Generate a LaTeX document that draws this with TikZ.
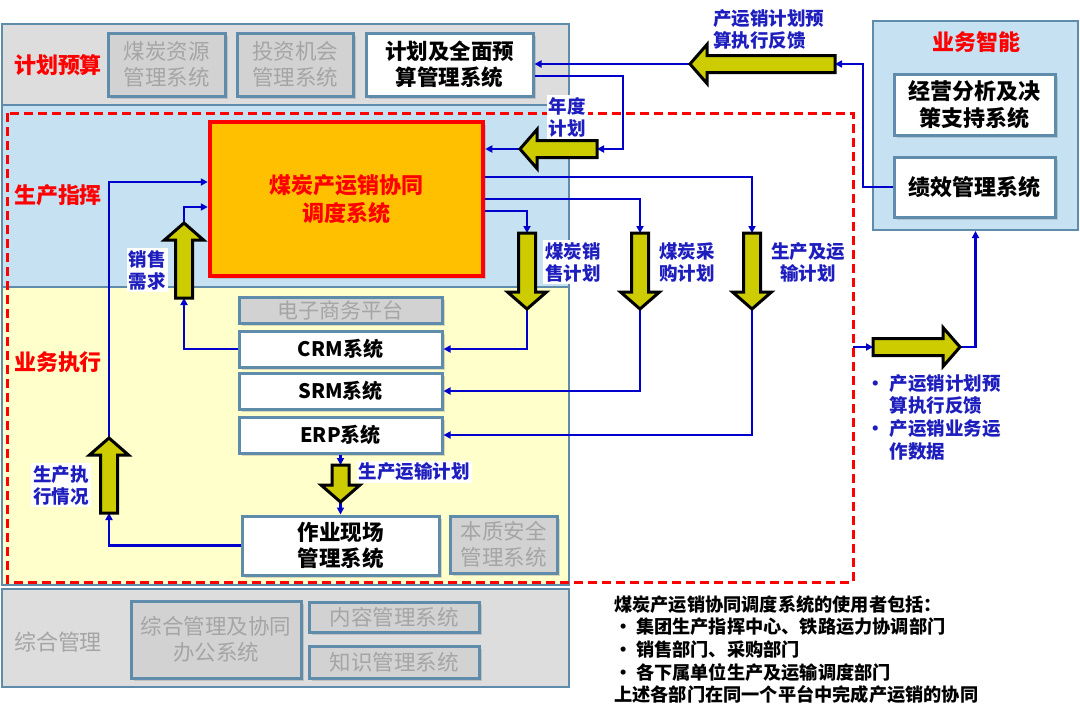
\documentclass[tikz,border=0pt]{standalone}
\usepackage{fontspec}
\setmainfont{Noto Sans CJK SC}
\usetikzlibrary{arrows.meta,shadows}
\definecolor{bord}{RGB}{95,140,170}
\definecolor{gfill}{RGB}{221,221,221}
\definecolor{gbox}{RGB}{210,210,210}
\definecolor{gtext}{RGB}{165,165,165}
\definecolor{bband}{RGB}{198,226,242}
\definecolor{yband}{RGB}{255,255,204}
\definecolor{lblue}{RGB}{0,0,204}
\definecolor{tblue}{RGB}{30,30,190}
\definecolor{olivef}{RGB}{204,204,0}
\definecolor{orng}{RGB}{255,192,0}
\definecolor{rred}{RGB}{255,0,0}
\tikzset{
 band/.style={draw=bord, line width=2pt, inner sep=0},
 sysbox/.style={draw=bord, line width=3pt, fill=white, inner sep=0, align=center,
   font=\bfseries\fontsize{21.5}{26}\selectfont,
   drop shadow={shadow xshift=3pt, shadow yshift=-3pt, opacity=0.3}},
 graybox/.style={sysbox, fill=gbox, text=gtext, font=\fontsize{21.5}{26}\selectfont},
 redlbl/.style={text=rred, font=\bfseries\fontsize{22}{26}\selectfont},
 bluelbl/.style={text=tblue, font=\bfseries\fontsize{18.5}{22}\selectfont, align=center, fill=white, inner sep=2pt},
 conn/.style={draw=lblue, line width=2.5pt, -{Triangle[length=7pt,width=7pt]}},
 barrow/.style={draw=black, line width=3pt, fill=olivef, line join=miter},
 pics/blk/.style={code={\draw[barrow] (0,-8.5) -- (#1-17,-8.5) -- (#1-17,-19.5) -- (#1,0) -- (#1-17,19.5) -- (#1-17,8.5) -- (0,8.5) -- cycle;}},
}
\begin{document}
\begin{tikzpicture}[x=1pt,y=-1pt]
\useasboundingbox[fill=white] (0,0) rectangle (1080,715);
% bands
\node[band, fill=gfill, minimum width=567, minimum height=81] (bplan) at (285.5,64.5) {};
\node[band, fill=bband, minimum width=567, minimum height=182] (bprod) at (285.5,196) {};
\node[band, fill=yband, minimum width=567, minimum height=298] (bexec) at (285.5,436) {};
\node[band, fill=gfill, minimum width=567, minimum height=98] (bgen) at (285.5,638) {};
\node[band, fill=bband, minimum width=205, minimum height=209] (bbi) at (975.5,125.5) {};
% red dashed frame
\draw[rred, line width=3pt, dash pattern=on 9pt off 5pt] (7,113) rectangle (853,582);
% band labels
\node[redlbl] (lplan) at (58,65) {计划预算};
\node[redlbl] (lprod) at (58,195) {生产指挥};
\node[redlbl] (lexec) at (58,362) {业务执行};
\node[text=gtext, font=\fontsize{22}{26}\selectfont] (lgen) at (58,642) {综合管理};
\node[redlbl] (lbi) at (976,42) {业务智能};
% boxes
\node[graybox, minimum width=117, minimum height=63] (coal) at (166.5,64.5) {煤炭资源\\管理系统};
\node[graybox, minimum width=116, minimum height=63] (inv) at (295,64.5) {投资机会\\管理系统};
\node[sysbox, minimum width=167, minimum height=63] (jh) at (449.5,64.5) {计划及全面预\\算管理系统};
\node[draw=rred, line width=4.5pt, fill=orng, minimum width=273, minimum height=154, align=center,
  text=rred, font=\bfseries\fontsize{22}{28}\selectfont,
  drop shadow={shadow xshift=3pt, shadow yshift=-3pt, opacity=0.3}] (core) at (346.5,199) {煤炭产运销协同\\调度系统};
\node[graybox, minimum width=203, minimum height=26, font=\fontsize{21}{24}\selectfont] (ec) at (340.5,310) {电子商务平台};
\node[sysbox, minimum width=203, minimum height=36, font=\bfseries\fontsize{20}{24}\selectfont] (crm) at (340.5,349) {CRM系统};
\node[sysbox, minimum width=203, minimum height=36, font=\bfseries\fontsize{20}{24}\selectfont] (srm) at (340.5,391) {SRM系统};
\node[sysbox, minimum width=203, minimum height=36, font=\bfseries\fontsize{20}{24}\selectfont] (erp) at (340.5,435) {ERP系统};
\node[sysbox, minimum width=197, minimum height=59] (zy) at (340.5,545.5) {作业现场\\管理系统};
\node[graybox, minimum width=107, minimum height=57] (aq) at (503.5,544.5) {本质安全\\管理系统};
\node[graybox, minimum width=170, minimum height=77] (oa) at (216,639.5) {综合管理及协同\\办公系统};
\node[graybox, minimum width=170, minimum height=30] (cm) at (394,617) {内容管理系统};
\node[graybox, minimum width=170, minimum height=32] (km) at (394,662) {知识管理系统};
\node[sysbox, minimum width=161, minimum height=61, font=\bfseries\fontsize{22}{27}\selectfont] (jy) at (974.5,104.5) {经营分析及决\\策支持系统};
\node[sysbox, minimum width=161, minimum height=60, font=\bfseries\fontsize{22}{27}\selectfont] (jx) at (974.5,187) {绩效管理系统};
% block arrow end points
\coordinate (a1t) at (527,233); \coordinate (a1b) at (527,309);
\coordinate (a2t) at (640,233); \coordinate (a2b) at (640,309);
\coordinate (a3t) at (752,233); \coordinate (a3b) at (752,309);
\coordinate (a4t) at (340.5,465); \coordinate (a4b) at (340.5,502);
\coordinate (a5t) at (109,513); \coordinate (a5b) at (109,438);
\coordinate (a6t) at (184,298); \coordinate (a6b) at (184,223);
\coordinate (ndt) at (597,149); \coordinate (ndb) at (520,149);
\coordinate (fbt) at (835,64); \coordinate (fbb) at (690,64);
\coordinate (a7t) at (873,347); \coordinate (a7b) at (960,347);
\coordinate (rd) at (853,347);
% connectors
\draw[conn] (jh.east |- 0,76) -| (623,149) -- (ndt);
\draw[conn] (ndb) -- (core.east |- ndb);
\draw[conn] (jx.west) -| (863,64) -- (fbt);
\draw[conn] (fbb) -- (jh.east |- fbb);
\draw[conn] (core.east |- 0,211) -| (a1t);
\draw[conn] (core.east |- 0,199) -| (a2t);
\draw[conn] (core.east |- 0,177) -| (a3t);
\draw[conn] (a1b) |- (crm.east);
\draw[conn] (a2b) |- (srm.east);
\draw[conn] (a3b) |- (erp.east);
\draw[conn] (erp.south) -- (a4t);
\draw[conn] (a4b) -- (zy.north);
\draw[conn] (zy.west) -| (a5t);
\draw[conn] (a5b) |- (core.west |- 0,182);
\draw[conn] (crm.west) -| (a6t);
\draw[conn] (a6b) |- (core.west |- 0,207);
\draw[conn] (rd) -- (a7t);
\draw[conn] (a7b) -| (bbi.south);
% block arrows
\pic[rotate=-90] at (a1t) {blk=76};
\pic[rotate=-90] at (a2t) {blk=76};
\pic[rotate=-90] at (a3t) {blk=76};
\pic[rotate=-90] at (a4t) {blk=37};
\pic[rotate=90] at (a5t) {blk=75};
\pic[rotate=90] at (a6t) {blk=75};
\pic[rotate=180] at (ndt) {blk=77};
\pic[rotate=180] at (fbt) {blk=145};
\pic at (a7t) {blk=87};
% labels
\node[bluelbl] (l1) at (567,117) {年度\\计划};
\node[bluelbl] (l2) at (573,262) {煤炭销\\售计划};
\node[bluelbl] (l3) at (687,262) {煤炭采\\购计划};
\node[bluelbl] (l4) at (808,262) {生产及运\\输计划};
\node[bluelbl] (l5) at (147,270) {销售\\需求};
\node[bluelbl] (l6) at (61,485) {生产执\\行情况};
\node[bluelbl] (l7) at (414,472) {生产运输计划};
\node[bluelbl, anchor=west, align=left] (l8) at (711,29) {产运销计划预\\算执行反馈};
\node[text=tblue, font=\bfseries\fontsize{18.5}{22.7}\selectfont, anchor=north west, inner sep=0] (l9) at (866,374)
 {\begin{tabular}{@{}l@{\hspace{5pt}}l@{}}•&产运销计划预\\ &算执行反馈\\ •&产运销业务运\\ &作数据\end{tabular}};
\node[font=\bfseries\fontsize{18.2}{22.7}\selectfont, anchor=north west, inner sep=0, align=left] (note) at (614,595)
 {煤炭产运销协同调度系统的使用者包括：\\
  \makebox[22pt][l]{•}集团生产指挥中心、铁路运力协调部门\\
  \makebox[22pt][l]{•}销售部门、采购部门\\
  \makebox[22pt][l]{•}各下属单位生产及运输调度部门\\
  上述各部门在同一个平台中完成产运销的协同};
\end{tikzpicture}
\end{document}
